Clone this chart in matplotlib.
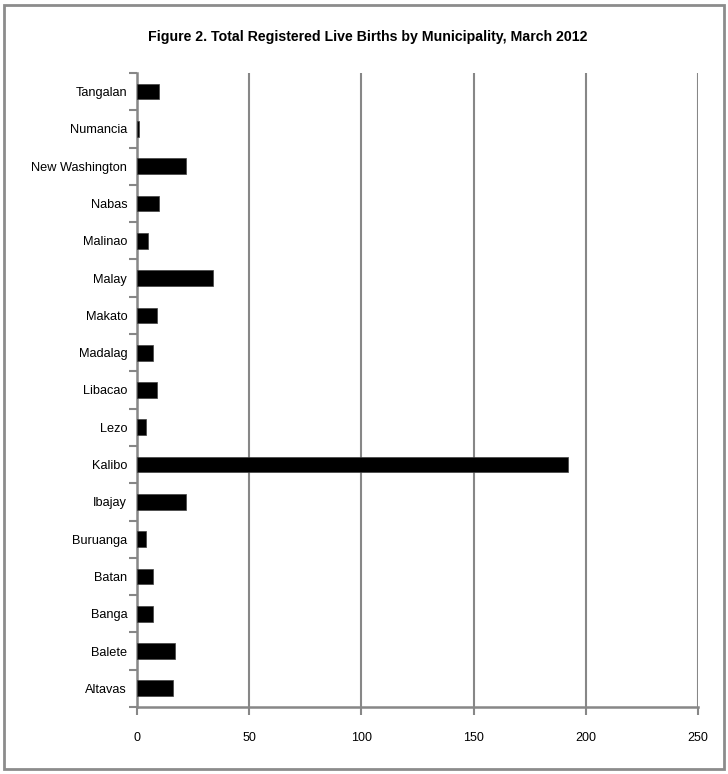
import matplotlib
matplotlib.use('Agg')
import matplotlib.pyplot as plt
from matplotlib.patches import Rectangle
import numpy as np

municipalities = ['Altavas', 'Balete', 'Banga', 'Batan', 'Buruanga', 'Ibajay', 'Kalibo',
                  'Lezo', 'Libacao', 'Madalag', 'Makato', 'Malay', 'Malinao', 'Nabas',
                  'New Washington', 'Numancia', 'Tangalan']
births = [16, 17, 7, 7, 4, 22, 192, 4, 9, 7, 9, 34, 5, 10, 22, 1, 10]
xticks = [0, 50, 100, 150, 200, 250]

plt.rcParams['font.family'] = ['Liberation Sans', 'DejaVu Sans']

fig = plt.figure(figsize=(7.28, 7.74), dpi=100)
ax = fig.add_axes([0.188, 0.0866, 0.771, 0.8191])

y = np.arange(len(municipalities))
ax.barh(y, births, height=0.42, color='black', edgecolor='#404040', linewidth=0.5, zorder=3)

ax.set_xlim(0, 250)
ax.set_ylim(-0.5, len(municipalities) - 0.5)
ax.set_xticks(xticks)
ax.set_xticklabels([str(v) for v in xticks], fontsize=9)
ax.set_yticks(y)
ax.set_yticklabels(municipalities, fontsize=9.2)
ax.set_yticks(np.arange(-0.5, len(municipalities), 1), minor=True)

grid_c = '#878787'
ax.tick_params(axis='y', which='major', length=0, pad=7)
ax.tick_params(axis='y', which='minor', length=6, width=1.5, color=grid_c, direction='out')
ax.tick_params(axis='x', which='major', length=6, width=1.5, color=grid_c, direction='out', pad=12)
ax.xaxis.grid(True, color=grid_c, linewidth=1.5, zorder=0)
ax.set_axisbelow(True)

for side in ['top', 'right']:
    ax.spines[side].set_visible(False)
for side in ['left', 'bottom']:
    ax.spines[side].set_color(grid_c)
    ax.spines[side].set_linewidth(1.8)

fig.text(0.505, 0.952, 'Figure 2. Total Registered Live Births by Municipality, March 2012',
         ha='center', va='center', fontsize=10.2, fontweight='bold')

fig.patches.append(Rectangle((0.005, 0.006), 0.99, 0.987, transform=fig.transFigure,
                             fill=False, edgecolor='#8c8c8c', linewidth=2))

fig.savefig('out.png', dpi=100)
